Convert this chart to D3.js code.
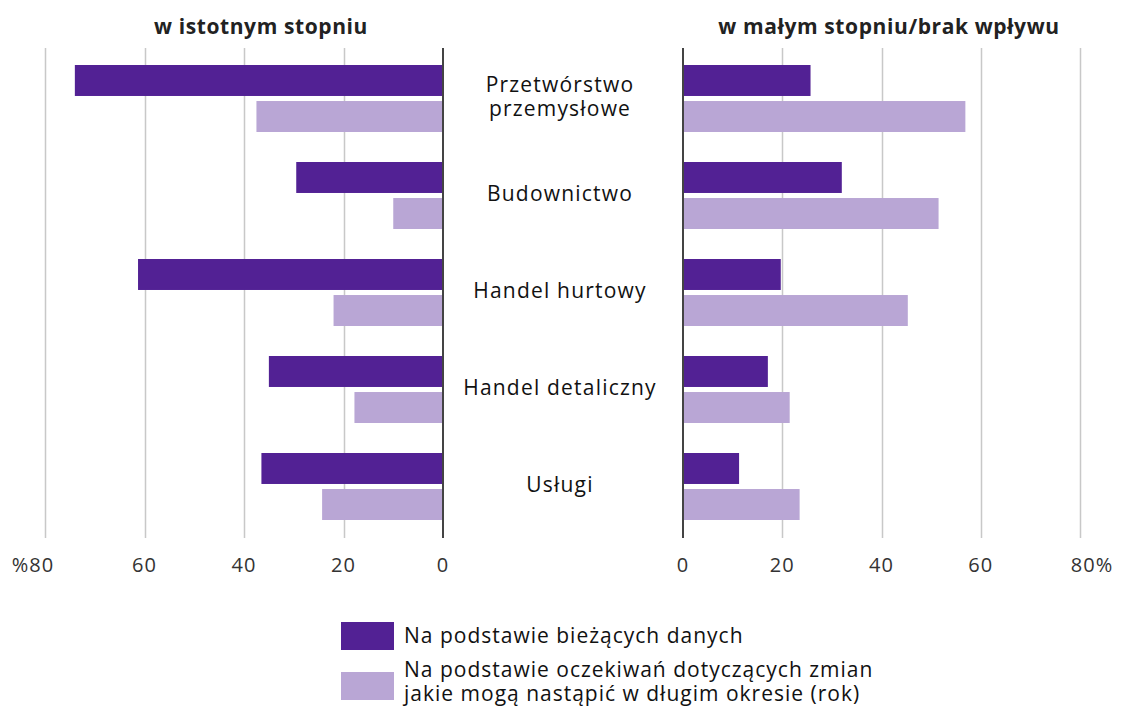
<!DOCTYPE html>
<html>
<head>
<meta charset="utf-8">
<script src="https://cdn.jsdelivr.net/npm/d3@7"></script>
<style>
	body { margin: 0; background: #fff; }
	text { font-family: "Open Sans", "Noto Sans", sans-serif; fill: #222; }
</style>
</head>
<body>
<div id="chartDiv"></div>
<script>
;(function() {

	const COLORS = {
		DARK: '#522194',
		LIGHT: '#b9a6d5',
		GRID: '#c8c8c8',
		AXIS: '#444444',
	};

	// data
	var categories = [
		["Przetwórstwo", "przemysłowe"],
		["Budownictwo"],
		["Handel hurtowy"],
		["Handel detaliczny"],
		["Usługi"]
	];
	var seriesNames = [
		"Na podstawie bieżących danych",
		"Na podstawie oczekiwań dotyczących zmian\njakie mogą nastąpić w długim okresie (rok)"
	];
	var leftCurrent = [74, 29.5, 61.3, 35, 36.5];
	var leftExpected = [37.5, 10, 22, 17.8, 24.3];
	var rightCurrent = [25.7, 32, 19.7, 17.1, 11.3];
	var rightExpected = [56.9, 51.5, 45.3, 21.5, 23.5];
	var ticks = [0, 20, 40, 60, 80];
	var leftTitle = "w istotnym stopniu";
	var rightTitle = "w małym stopniu/brak wpływu";

	var width = 1122;
	var height = 711;
	var barTop = 50, barBottom = 535;
	var gridTop = 48, gridBottom = 538;

	var chart = d3.select("#chartDiv").append("svg")
		.attr("width", width)
		.attr("height", height);

	var yScale = d3.scaleBand()
		.domain(d3.range(categories.length))
		.range([barTop, barBottom]);

	var subScale = d3.scaleBand()
		.domain([0, 1])
		.range([15, 82])
		.paddingInner(0.14);

	var leftX = d3.scaleLinear().domain([0, 80]).range([443, 45]);
	var rightX = d3.scaleLinear().domain([0, 80]).range([683, 1080]);

	function drawPanel(xScale, current, expected, leftSide, title, titleX) {
		var g = chart.append("g");

		// grid lines
		g.selectAll(".grid")
			.data(ticks.filter(t => t > 0))
			.enter().append("line")
				.attr("x1", d => Math.round(xScale(d)) + 0.5)
				.attr("x2", d => Math.round(xScale(d)) + 0.5)
				.attr("y1", gridTop)
				.attr("y2", gridBottom)
				.attr("stroke", COLORS.GRID)
				.attr("stroke-width", 1.5);

		// tick labels
		g.selectAll(".tick")
			.data(ticks)
			.enter().append("text")
				.attr("x", d => xScale(d))
				.attr("y", 572)
				.attr("text-anchor", "middle")
				.style("font-size", "20px")
				.style("letter-spacing", "1px")
				.style("fill", "#333")
				.text(d => {
					if (d === 80) return leftSide ? "%80" : "80%";
					return d;
				})
				.attr("dx", d => d === 80 ? (leftSide ? -12 : 12) : 0);

		var series = [
			{ values: current, color: COLORS.DARK },
			{ values: expected, color: COLORS.LIGHT }
		];

		series.forEach((s, si) => {
			g.selectAll(".bar" + si)
				.data(s.values)
				.enter().append("rect")
					.attr("x", d => Math.min(xScale(0), xScale(d)))
					.attr("y", (d, i) => yScale(i) + subScale(si))
					.attr("width", d => Math.abs(xScale(d) - xScale(0)))
					.attr("height", subScale.bandwidth())
					.attr("fill", s.color);
		});

		// zero axis
		g.append("line")
			.attr("x1", xScale(0))
			.attr("x2", xScale(0))
			.attr("y1", gridTop)
			.attr("y2", gridBottom)
			.attr("stroke", COLORS.AXIS)
			.attr("stroke-width", 2);

		// panel title
		chart.append("text")
			.attr("x", titleX)
			.attr("y", 34)
			.attr("text-anchor", "middle")
			.style("font-size", "21px")
			.style("letter-spacing", "0.6px")
			.style("font-weight", "bold")
			.text(title);
	}

	drawPanel(leftX, leftCurrent, leftExpected, true, leftTitle, 261);
	drawPanel(rightX, rightCurrent, rightExpected, false, rightTitle, 889);

	// category labels
	var labels = chart.append("g");
	categories.forEach((lines, i) => {
		var cy = yScale(i) + yScale.bandwidth() / 2;
		var lineH = 24;
		var startY = cy - (lines.length - 1) * lineH / 2 + 5;
		lines.forEach((l, j) => {
			labels.append("text")
				.attr("x", 560)
				.attr("y", startY + j * lineH)
				.attr("text-anchor", "middle")
				.style("font-size", "21px")
				.style("letter-spacing", "1.2px")
				.style("fill", "#111")
				.text(l);
		});
	});

	// legend
	var legend = chart.append("g");
	var legendColors = [COLORS.DARK, COLORS.LIGHT];
	var legendY = [622, 672];
	seriesNames.forEach((name, i) => {
		legend.append("rect")
			.attr("x", 341)
			.attr("y", legendY[i])
			.attr("width", 53)
			.attr("height", 28)
			.attr("fill", legendColors[i]);
		name.split("\n").forEach((l, j) => {
			legend.append("text")
				.attr("x", 404)
				.attr("y", (i === 0 ? 643 : 677) + j * 24)
				.style("font-size", "21px")
				.style("letter-spacing", "1px")
				.style("fill", "#111")
				.text(l);
		});
	});
})();
</script>
</body>
</html>
